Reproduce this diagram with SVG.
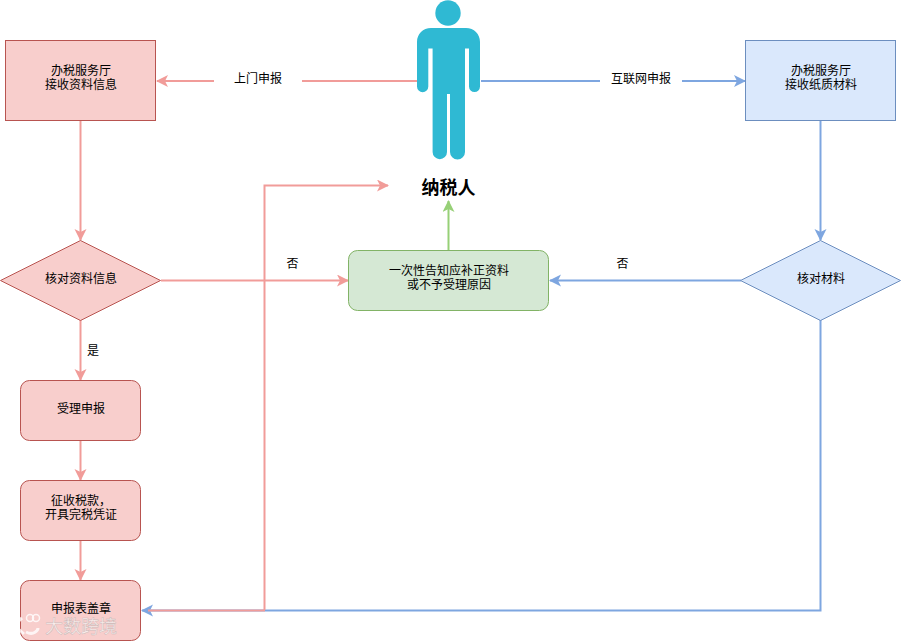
<svg xmlns="http://www.w3.org/2000/svg" width="901" height="641" viewBox="0 0 901 641">
<style>
.t{font-family:"Liberation Sans","Noto Sans CJK SC",sans-serif;font-size:12px;fill:#000;text-anchor:middle}
.c{fill:none;stroke-width:2}
.p{stroke:#f19c99}.b{stroke:#7ea6e0}.g{stroke:#97d077}
.r{fill:#f8cecc;stroke:#b85450}
.u{fill:#dae8fc;stroke:#6c8ebf}
.n{fill:#d5e8d4;stroke:#82b366}
.w{font-family:"Liberation Sans","Noto Sans CJK SC",sans-serif;font-size:18px;fill:#fff;fill-opacity:.65;stroke:#999;stroke-opacity:.5;stroke-width:.5;text-anchor:middle}
</style>
<defs>
<marker id="ap" markerUnits="userSpaceOnUse" markerWidth="14" markerHeight="14" refX="11" refY="6" orient="auto"><path d="M0,0L12,6L0,12L3,6Z" fill="#f19c99"/></marker>
<marker id="ab" markerUnits="userSpaceOnUse" markerWidth="14" markerHeight="14" refX="11" refY="6" orient="auto"><path d="M0,0L12,6L0,12L3,6Z" fill="#7ea6e0"/></marker>
<marker id="ag" markerUnits="userSpaceOnUse" markerWidth="14" markerHeight="14" refX="11" refY="6" orient="auto"><path d="M0,0L12,6L0,12L3,6Z" fill="#97d077"/></marker>
</defs>
<rect width="901" height="641" fill="#fff"/>
<g id="connectors">
<path class="c p" d="M417,81H302"/>
<path class="c p" d="M214,81H157" marker-end="url(#ap)"/>
<path class="c b" d="M481,81H600"/>
<path class="c b" d="M682,81H745" marker-end="url(#ab)"/>
<path class="c p" d="M80.500,121V240" marker-end="url(#ap)"/>
<path class="c b" d="M820.500,121V240" marker-end="url(#ab)"/>
<path class="c p" d="M161,280.500H348" marker-end="url(#ap)"/>
<path class="c b" d="M741,280.500H550" marker-end="url(#ab)"/>
<path class="c g" d="M448.500,250V201" marker-end="url(#ag)"/>
<path class="c p" d="M80.500,320V380" marker-end="url(#ap)"/>
<path class="c p" d="M80.500,440V480" marker-end="url(#ap)"/>
<path class="c p" d="M80.500,540V580" marker-end="url(#ap)"/>
<path class="c b" d="M820.500,320V610.500H142" marker-end="url(#ab)"/>
<path class="c p" d="M265,610.500H148"/>
<path class="c p" d="M264.500,610V185.500H388" marker-end="url(#ap)"/>
<text class="t" x="258" y="83">上门申报</text>
<text class="t" x="641" y="83">互联网申报</text>
<text class="t" x="292.500" y="268">否</text>
<text class="t" x="622.500" y="268">否</text>
<text class="t" x="93" y="355">是</text>
</g>
<g id="person">
<circle cx="448" cy="13" r="12.700" fill="#2fb9d3"/>
<path fill="#2fb9d3" d="M431,28H466C474,28 480,34 480,42V86.500A5.500,5.500 0 0 1 469,86.500V48.500H465V152A7.500,7.500 0 0 1 450,152V94H447V152A7.200,7.200 0 0 1 432.600,152V48.500H428.300V86.500A5.650,5.650 0 0 1 417,86.500V42C417,34 423,28 431,28Z"/>
<text x="448.500" y="194" style="font-family:'Liberation Sans','Noto Sans CJK SC',sans-serif;font-size:18px;font-weight:700;text-anchor:middle">纳税人</text>
</g>
<g id="hall-left">
<rect class="r" x="5.500" y="40.500" width="150" height="80"/>
<text class="t" x="81" y="75">办税服务厅</text><text class="t" x="81" y="89">接收资料信息</text>
</g>
<g id="hall-right">
<rect class="u" x="745.500" y="40.500" width="150" height="80"/>
<text class="t" x="821" y="75">办税服务厅</text><text class="t" x="821" y="89">接收纸质材料</text>
</g>
<g id="check-left">
<path class="r" d="M80.500,240.500L160.500,280.500L80.500,320.500L0.500,280.500Z"/>
<text class="t" x="81" y="283">核对资料信息</text>
</g>
<g id="check-right">
<path class="u" d="M820.500,240.500L900.500,280.500L820.500,320.500L740.500,280.500Z"/>
<text class="t" x="821" y="283">核对材料</text>
</g>
<g id="notify">
<rect class="n" x="348.500" y="250.500" width="200" height="60" rx="9"/>
<text class="t" x="449" y="275">一次性告知应补正资料</text><text class="t" x="449" y="289">或不予受理原因</text>
</g>
<g id="accept">
<rect class="r" x="20.500" y="380.500" width="120" height="60" rx="9"/>
<text class="t" x="81" y="413">受理申报</text>
</g>
<g id="collect">
<rect class="r" x="20.500" y="480.500" width="120" height="60" rx="9"/>
<text class="t" x="81" y="505">征收税款，</text><text class="t" x="81" y="519">开具完税凭证</text>
</g>
<g id="stamp">
<rect class="r" x="20.500" y="580.500" width="120" height="60" rx="9"/>
<text class="t" x="81" y="613">申报表盖章</text>
</g>
<g id="watermark">
<path d="M11,618V632M22,618L14,625L24,634M26,632C34,636 38,630 38,628" fill="none" stroke="#fff" stroke-opacity=".8" stroke-width="3"/>
<circle cx="30" cy="618" r="3.500" fill="none" stroke="#fff" stroke-opacity=".8" stroke-width="1.500"/>
<circle cx="36" cy="618" r="3.500" fill="none" stroke="#fff" stroke-opacity=".8" stroke-width="1.500"/>
<text class="w" x="81" y="633">大数跨境</text>
</g>
</svg>
